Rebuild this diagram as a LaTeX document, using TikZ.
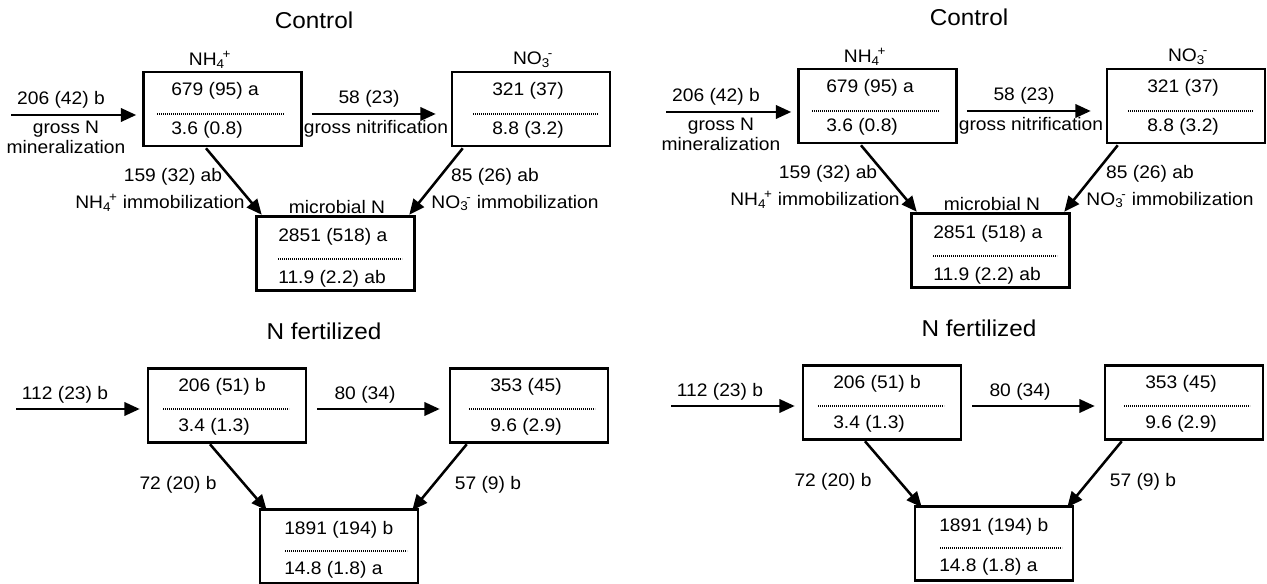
\documentclass[tikz,border=0pt]{standalone}
\usepackage{fontspec}
\setmainfont{Liberation Sans}[FakeStretch=1.06]
\usetikzlibrary{arrows.meta,calc}

% ion name with subscript and charge
\newcommand{\ionlbl}[3]{#1\textsubscript{#2}\kern-0.12em\textsuperscript{#3}}

\tikzset{
    pool/.style={draw, line width=1.9pt, minimum width=118.5pt, minimum height=55.5pt},
    flux/.style={line width=1.9pt, -{Triangle[length=11.5pt,width=10pt]}},
    sep/.style={line width=0.9pt, dash pattern=on 0.9pt off 0.6pt},
    val/.style={anchor=west, inner sep=0pt},
    lbl/.style={inner sep=0pt},
    ttl/.style={inner sep=0pt, font=\fontsize{17.2}{19}\selectfont}
}

\begin{document}
\begin{tikzpicture}[x=0.75pt, y=-0.75pt, font=\fontsize{13.6}{15}\selectfont]
\useasboundingbox (0,0) rectangle (1267,584);

\foreach \dx/\dy/\s in {0/0/l, 655/-3/r}{
\begin{scope}[shift={(\dx,\dy)}]

    %% Control
    \node[ttl] (ctl\s) at (314,20) {Control};

    % NH4+ pool
    \node[pool] (nh4c\s) at (222.5,109) {};
    \node[lbl] (nh4ct\s) at (210,60) {\ionlbl{NH}{4}{+}};
    \node[val] (nh4cv\s) at (171,91) {679 (95) a};
    \node[val] (nh4cr\s) at (171,130) {3.6 (0.8)};
    \draw[sep] (157,114) -- (284,114);

    % NO3- pool
    \node[pool] (no3c\s) at (531,109) {};
    \node[lbl] (no3ct\s) at (533,60) {\ionlbl{NO}{3}{-}};
    \node[val] (no3cv\s) at (492,91) {321 (37)};
    \node[val] (no3cr\s) at (492,130) {8.8 (3.2)};
    \draw[sep] (473,114) -- (598,114);

    % microbial pool
    \node[pool] (micc\s) at (335.5,253.5) {};
    \node[lbl] (micct\s) at (337,207) {microbial N};
    \node[val] (miccv\s) at (278,237) {2851 (518) a};
    \node[val] (miccr\s) at (278,279) {11.9 (2.2) ab};
    \draw[sep] (278,259) -- (402,259);

    % mineralization
    \coordinate (minc\s) at (11,115);
    \draw[flux] (minc\s) -- ($(nh4c\s.west)+(-6,6)$);
    \node[lbl] (minct\s) at (61,100) {206 (42) b};
    \node[lbl, align=center] (mincl\s) at (66,137) {gross N\\mineralization};

    % nitrification
    \draw[flux] ($(nh4c\s.east)+(9,5)$) -- ($(no3c\s.west)+(-15,5)$);
    \node[lbl] (nitct\s) at (369,99) {58 (23)};
    \node[lbl] (nitcl\s) at (376,129) {gross nitrification};

    % immobilization
    \draw[flux] ($(nh4c\s.south)+(-16.5,1)$) -- ($(micc\s.north west)+(6.5,-0.5)$);
    \draw[flux] ($(no3c\s.south west)+(12,1)$) -- ($(micc\s.north east)+(-6.5,-0.5)$);
    \node[lbl] (nh4cn\s) at (173,177) {159 (32) ab};
    \node[lbl] (nh4cl\s) at (160,203) {\ionlbl{NH}{4}{+} immobilization};
    \node[lbl] (no3cn\s) at (495,177) {85 (26) ab};
    \node[lbl] (no3cl\s) at (515,203) {\ionlbl{NO}{3}{-} immobilization};

    %% N fertilized
    \node[ttl] (fer\s) at (324,331) {N fertilized};

    % NH4+ pool
    \node[pool] (nh4f\s) at (227,405.5) {};
    \node[val] (nh4fv\s) at (178,387) {206 (51) b};
    \node[val] (nh4fr\s) at (178,427) {3.4 (1.3)};
    \draw[sep] (163,409) -- (289,409);

    % NO3- pool
    \node[pool] (no3f\s) at (529,405.5) {};
    \node[val] (no3fv\s) at (490,387) {353 (45)};
    \node[val] (no3fr\s) at (490,427) {9.6 (2.9)};
    \draw[sep] (469,409) -- (595,409);

    % microbial pool
    \node[pool] (micf\s) at (339,546.5) {};
    \node[val] (micfv\s) at (284,530) {1891 (194) b};
    \node[val] (micfr\s) at (284,570) {14.8 (1.8) a};
    \draw[sep] (285,551) -- (407,551);

    % fluxes
    \coordinate (minf\s) at (16,409);
    \draw[flux] (minf\s) -- ($(nh4f\s.west)+(-7,3.5)$);
    \node[lbl] (minft\s) at (65,395) {112 (23) b};
    \draw[flux] ($(nh4f\s.east)+(10,3.5)$) -- ($(no3f\s.west)+(-9,3.5)$);
    \node[lbl] (nitft\s) at (365,395) {80 (34)};
    \draw[flux] ($(nh4f\s.south)+(-17,0.5)$) -- ($(micf\s.north west)+(8,2)$);
    \draw[flux] ($(no3f\s.south west)+(18,0.5)$) -- ($(micf\s.north east)+(-7,2)$);
    \node[lbl] (nh4fl\s) at (178,485) {72 (20) b};
    \node[lbl] (no3fl\s) at (488,485) {57 (9) b};

\end{scope}
}

\end{tikzpicture}
\end{document}
